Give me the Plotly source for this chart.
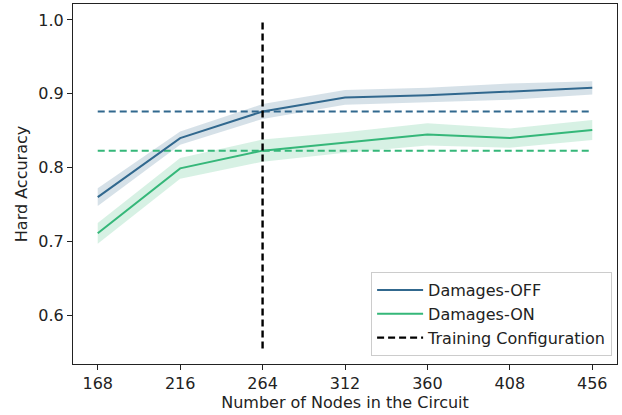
import plotly.graph_objects as go

# Circuit sizes evaluated
nodes = [168, 216, 264, 312, 360, 408, 456]

# Mean hard accuracy and spread for each configuration
acc_off = [0.760, 0.840, 0.876, 0.895, 0.898, 0.903, 0.908]
err_off = [0.012, 0.009, 0.010, 0.010, 0.010, 0.011, 0.009]
acc_on = [0.711, 0.799, 0.823, 0.834, 0.845, 0.840, 0.851]
err_on = [0.014, 0.014, 0.015, 0.014, 0.015, 0.013, 0.0135]

# Training configuration (nodes) and its reference accuracies
train_nodes = 264
train_acc_off = 0.876
train_acc_on = 0.823
vline_span = [0.555, 1.0]

x_ticks = [168, 216, 264, 312, 360, 408, 456]
y_ticks = [0.6, 0.7, 0.8, 0.9, 1.0]

c_off = "#31688e"
c_on = "#35b779"
fill_off = "rgba(49,104,142,0.2)"
fill_on = "rgba(53,183,121,0.2)"

fig = go.Figure()


def band(x, y, e, fill):
    upper = [a + b for a, b in zip(y, e)]
    lower = [a - b for a, b in zip(y, e)]
    fig.add_trace(go.Scatter(x=x + x[::-1], y=upper + lower[::-1], fill="toself",
                             fillcolor=fill, line=dict(width=0), mode="lines",
                             hoverinfo="skip", showlegend=False))


band(nodes, acc_off, err_off, fill_off)
band(nodes, acc_on, err_on, fill_on)

fig.add_trace(go.Scatter(x=[nodes[0], nodes[-1]], y=[train_acc_off] * 2, mode="lines",
                         line=dict(color=c_off, width=2, dash="7px,4px"), showlegend=False))
fig.add_trace(go.Scatter(x=[nodes[0], nodes[-1]], y=[train_acc_on] * 2, mode="lines",
                         line=dict(color=c_on, width=2, dash="7px,4px"), showlegend=False))

fig.add_trace(go.Scatter(x=nodes, y=acc_off, mode="lines", name="Damages-OFF",
                         line=dict(color=c_off, width=2)))
fig.add_trace(go.Scatter(x=nodes, y=acc_on, mode="lines", name="Damages-ON",
                         line=dict(color=c_on, width=2)))
fig.add_trace(go.Scatter(x=[train_nodes, train_nodes], y=vline_span, mode="lines",
                         name="Training Configuration",
                         line=dict(color="black", width=2.4, dash="7px,4px")))

font = dict(family="DejaVu Sans", size=16, color="#222")
axis_common = dict(showgrid=False, zeroline=False, showline=True, linecolor="#222",
                   linewidth=1, mirror=True, ticks="outside", ticklen=5, tickwidth=1,
                   tickcolor="#222", tickfont=font)

fig.update_layout(
    width=622, height=415,
    margin=dict(l=73, r=5, t=4, b=51),
    plot_bgcolor="white", paper_bgcolor="white",
    font=font,
    xaxis=dict(range=[153.6, 470.4], tickvals=x_ticks, ticktext=[str(t) for t in x_ticks],
               title=dict(text="Number of Nodes in the Circuit", font=font, standoff=4),
               **axis_common),
    yaxis=dict(range=[0.534, 1.0216], tickvals=y_ticks, ticktext=[f"{t:.1f}" for t in y_ticks],
               title=dict(text="Hard Accuracy", font=font, standoff=6),
               **axis_common),
    legend=dict(x=0.991, y=0.022, xanchor="right", yanchor="bottom",
                bordercolor="#cccccc", borderwidth=1, bgcolor="rgba(255,255,255,0.85)",
                font=font, tracegroupgap=0, itemwidth=46),
)

fig.write_html("out.html")
